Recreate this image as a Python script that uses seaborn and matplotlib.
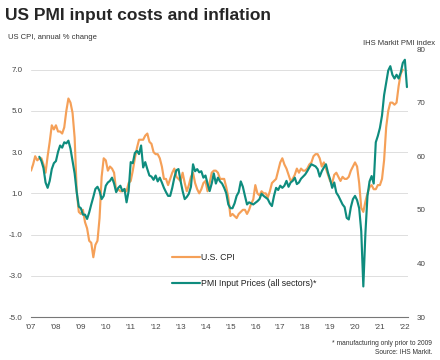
"""US PMI input costs vs US CPI inflation, dual axis line chart."""

import matplotlib as mpl
import matplotlib.pyplot as plt
import numpy as np
import pandas as pd
import seaborn as sns

sns.set_style("white")
mpl.rcParams["font.family"] = ["Liberation Sans", "DejaVu Sans"]

ORANGE = "#F5A058"
TEAL = "#0E8C7E"

# US CPI, annual % change, monthly Jan 2007 - Dec 2021
cpi_start = "2007-01-01"
cpi = [
    2.1, 2.4, 2.8, 2.6, 2.7, 2.7, 2.4, 2.0, 2.8, 3.5, 4.3, 4.1,
    4.3, 4.0, 4.0, 3.9, 4.2, 5.0, 5.6, 5.4, 4.9, 3.7, 1.1, 0.1,
    0.0, 0.2, -0.4, -0.7, -1.3, -1.4, -2.1, -1.5, -1.3, -0.2, 1.8, 2.7,
    2.6, 2.1, 2.3, 2.2, 2.0, 1.1, 1.2, 1.1, 1.1, 1.2, 1.1, 1.5,
    1.6, 2.1, 2.7, 3.2, 3.6, 3.6, 3.6, 3.8, 3.9, 3.5, 3.4, 3.0,
    2.9, 2.9, 2.7, 2.3, 1.7, 1.7, 1.4, 1.7, 2.0, 2.2, 1.8, 1.7,
    1.6, 2.0, 1.5, 1.1, 1.4, 1.8, 2.0, 1.5, 1.2, 1.0, 1.2, 1.5,
    1.6, 1.1, 1.5, 2.0, 2.1, 2.1, 2.0, 1.7, 1.7, 1.7, 1.3, 0.8,
    -0.1, 0.0, -0.1, -0.2, 0.0, 0.1, 0.2, 0.2, 0.0, 0.2, 0.5, 0.7,
    1.4, 1.0, 0.9, 1.1, 1.0, 1.0, 0.8, 1.1, 1.5, 1.6, 1.7, 2.1,
    2.5, 2.7, 2.4, 2.2, 1.9, 1.6, 1.7, 1.9, 2.2, 2.0, 2.2, 2.1,
    2.1, 2.2, 2.4, 2.5, 2.8, 2.9, 2.9, 2.7, 2.3, 2.5, 2.2, 1.9,
    1.6, 1.5, 1.9, 2.0, 1.8, 1.6, 1.8, 1.7, 1.7, 1.8, 2.1, 2.3,
    2.5, 2.3, 1.5, 0.3, 0.1, 0.6, 1.0, 1.3, 1.4, 1.2, 1.2, 1.4,
    1.4, 1.7, 2.6, 4.2, 5.0, 5.4, 5.4, 5.3, 5.4, 6.2, 6.8, 7.0,
]

# PMI input prices index, monthly May 2007 - Feb 2022
pmi_start = "2007-05-01"
pmi = [
    59.9, 59.1, 57.8, 55.1, 54.1, 55.4, 57.6, 58.7,
    59.1, 60.8, 62.0, 61.6, 62.6, 62.4, 62.9, 61.4, 59.1, 56.8, 53.3, 50.6,
    50.3, 49.1, 49.1, 48.3, 49.5, 51.0, 52.4, 53.9, 54.3, 53.5, 52.0, 52.6,
    54.5, 55.1, 55.4, 56.0, 54.9, 53.3, 54.1, 54.5, 53.5, 53.9, 51.4, 53.5,
    58.9, 58.7, 60.6, 61.0, 60.4, 62.0, 57.9, 58.9, 57.6, 56.4, 56.2, 55.6,
    56.4, 55.3, 56.0, 55.1, 54.1, 53.3, 52.6, 52.6, 54.1, 56.0, 57.4, 57.6,
    55.4, 53.5, 52.0, 52.4, 53.0, 54.3, 58.5, 57.2, 57.6, 57.0, 57.2, 56.0,
    56.4, 54.9, 53.5, 54.9, 56.8, 54.9, 56.0, 55.3, 54.9, 54.1, 53.1, 51.0,
    50.3, 50.3, 51.2, 52.6, 53.3, 55.3, 54.3, 52.6, 51.0, 51.4, 51.2, 51.0,
    51.3, 51.6, 52.0, 53.0, 52.6, 52.3, 52.0, 51.2, 50.7, 52.6, 54.1, 53.7,
    54.5, 54.1, 54.5, 55.4, 54.3, 55.1, 55.4, 56.0, 54.8, 55.1, 55.8, 56.2,
    56.6, 57.2, 57.9, 58.5, 58.3, 58.1, 57.6, 56.2, 57.2, 57.9, 58.5, 56.9,
    55.7, 54.1, 55.1, 53.2, 52.6, 51.8, 51.0, 50.5, 48.5, 48.2, 50.5, 52.0,
    52.6, 51.8, 50.3, 46.0, 35.7, 45.6, 52.6, 55.3, 56.3, 54.9, 62.6, 63.8,
    65.3, 67.6, 71.4, 73.7, 76.0, 76.8, 75.2, 74.5, 75.2, 74.5, 75.6, 77.4,
    78.0, 72.9,
]

years = list(range(2007, 2023))
year_labels = [f"'{y % 100:02d}" for y in years]
left_ticks = [-5.0, -3.0, -1.0, 1.0, 3.0, 5.0, 7.0]
right_ticks = [30, 40, 50, 60, 70, 80]


def to_frac_year(start, n):
    d = pd.date_range(start, periods=n, freq="MS")
    return d.year + (d.month - 1) / 12


df_cpi = pd.DataFrame({"x": to_frac_year(cpi_start, len(cpi)), "y": cpi})
df_pmi = pd.DataFrame({"x": to_frac_year(pmi_start, len(pmi)), "y": pmi})

fig = plt.figure(figsize=(4.4, 3.6), dpi=100)
ax = fig.add_axes([0.0705, 0.1194, 0.857, 0.7444])
ax2 = ax.twinx()

sns.lineplot(data=df_cpi, x="x", y="y", ax=ax, color=ORANGE, lw=1.55,
             label="U.S. CPI", legend=False)
sns.lineplot(data=df_pmi, x="x", y="y", ax=ax2, color=TEAL, lw=1.55,
             label="PMI Input Prices (all sectors)*", legend=False)

ax.set_xlim(2007, 2022.13)
ax.set_ylim(-5, 8)
ax2.set_ylim(30, 80)

ax.set_xticks(years)
ax.set_xticklabels(year_labels)
ax.set_yticks(left_ticks)
ax.set_yticklabels([f"{t:.1f}" for t in left_ticks])
ax2.set_yticks(right_ticks)
ax2.set_yticklabels([str(t) for t in right_ticks])

ax.grid(axis="y", color="#dedede", lw=0.7)
ax.grid(axis="x", visible=False)
for a in (ax, ax2):
    a.set_xlabel("")
    a.set_ylabel("")
    for side in ("top", "left", "right", "bottom"):
        a.spines[side].set_visible(False)
ax.spines["bottom"].set_visible(True)
ax.spines["bottom"].set_color("#777777")
ax.spines["bottom"].set_linewidth(0.8)

ax.tick_params(axis="x", length=3, width=0.6, color="#777777", pad=2,
               labelsize=5.8, labelcolor="#444444")
ax.tick_params(axis="y", length=0, pad=6, labelsize=5.8, labelcolor="#444444")
ax2.tick_params(axis="y", length=0, pad=6, labelsize=5.8, labelcolor="#444444")

# legend below the data, lines from both axes
h1, l1 = ax.get_legend_handles_labels()
h2, l2 = ax2.get_legend_handles_labels()
leg = ax2.legend(h1 + h2, l1 + l2, loc="upper left", bbox_to_anchor=(0.374, 0.24),
                 frameon=False, fontsize=6.3, handlelength=3.2, handletextpad=0.1,
                 labelspacing=2.0, borderpad=0, borderaxespad=0)
for t in leg.get_texts():
    t.set_color("#222222")

fig.text(0.011, 0.956, "US PMI input costs and inflation", fontsize=12.5,
         fontweight="bold", va="center", ha="left")
fig.text(0.018, 0.897, "US CPI, annual % change", fontsize=5.5, va="center",
         color="#333333")
fig.text(0.988, 0.879, "IHS Markit PMI index", fontsize=5.5, va="center",
         ha="right", color="#333333")
fig.text(0.982, 0.047, "* manufacturing only prior to 2009", fontsize=4.8,
         ha="right", va="center", color="#333333")
fig.text(0.982, 0.022, "Source: IHS Markit.", fontsize=4.8, ha="right",
         va="center", color="#333333")

fig.savefig("out.png", dpi=100)
